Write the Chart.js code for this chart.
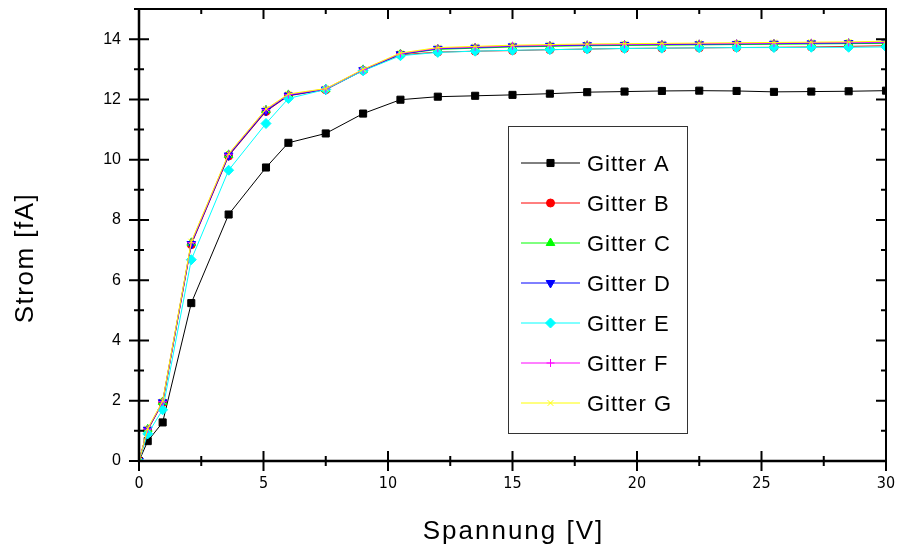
<!DOCTYPE html>
<html>
<head>
<meta charset="utf-8">
<title>Strom vs Spannung</title>
<script src="https://cdn.jsdelivr.net/npm/chart.js"></script>
<style>
    body { margin: 0; background: #ffffff; }
    #wrap { width: 899px; height: 548px; }
</style>
</head>
<body>
<div id="wrap"><canvas id="gitterChart" width="899" height="548"></canvas></div>
<script>
// Data
const spannung = [0, 0.35, 0.95, 2.1, 3.6, 5.1, 6.0, 7.5, 9.0, 10.5, 12, 13.5, 15, 16.5, 18, 19.5, 21, 22.5, 24, 25.5, 27, 28.5, 30];

const gitterA = [0, 0.66, 1.28, 5.24, 8.18, 9.74, 10.56, 10.87, 11.53, 11.99, 12.09, 12.12, 12.15, 12.19, 12.24, 12.26, 12.28, 12.29, 12.28, 12.25, 12.26, 12.27, 12.29];
const gitterB = [0, 1.02, 1.93, 7.18, 10.12, 11.60, 12.12, 12.32, 12.96, 13.48, 13.57, 13.60, 13.62, 13.65, 13.67, 13.69, 13.70, 13.71, 13.72, 13.73, 13.74, 13.76, 13.78];
const gitterC = [0, 1.05, 1.96, 7.24, 10.16, 11.64, 12.15, 12.34, 12.98, 13.50, 13.66, 13.70, 13.74, 13.76, 13.78, 13.79, 13.80, 13.81, 13.82, 13.83, 13.84, 13.85, 13.86];
const gitterD = [0, 1.04, 1.95, 7.20, 10.14, 11.62, 12.13, 12.33, 12.97, 13.50, 13.68, 13.72, 13.76, 13.78, 13.80, 13.81, 13.82, 13.83, 13.84, 13.85, 13.86, 13.87, 13.88];
const gitterE = [0, 0.90, 1.70, 6.68, 9.65, 11.20, 12.03, 12.33, 12.95, 13.45, 13.56, 13.60, 13.63, 13.65, 13.67, 13.69, 13.70, 13.71, 13.72, 13.72, 13.73, 13.73, 13.74];
const gitterF = [0, 1.06, 1.97, 7.25, 10.18, 11.66, 12.16, 12.35, 12.99, 13.52, 13.70, 13.74, 13.78, 13.80, 13.82, 13.83, 13.84, 13.85, 13.86, 13.87, 13.88, 13.89, 13.90];
const gitterG = [0, 1.08, 1.99, 7.28, 10.20, 11.68, 12.18, 12.36, 13.00, 13.54, 13.72, 13.76, 13.80, 13.82, 13.84, 13.85, 13.86, 13.87, 13.88, 13.89, 13.90, 13.91, 13.93];

const seriesNames = ['Gitter A', 'Gitter B', 'Gitter C', 'Gitter D', 'Gitter E', 'Gitter F', 'Gitter G'];
const seriesValues = [gitterA, gitterB, gitterC, gitterD, gitterE, gitterF, gitterG];

const xTicks = [0, 5, 10, 15, 20, 25, 30];
const yTicks = [0, 2, 4, 6, 8, 10, 12, 14];

// Styles per series
const colors = ['#000000', '#ff0000', '#00ff00', '#0000ff', '#00ffff', '#ff00ff', '#ffff00'];
const markers = [
    { style: 'rect', radius: 5, rotation: 0 },
    { style: 'circle', radius: 4, rotation: 0 },
    { style: 'triangle', radius: 5, rotation: 0 },
    { style: 'triangle', radius: 5, rotation: 180 },
    { style: 'rectRot', radius: 5, rotation: 0 },
    { style: 'cross', radius: 4, rotation: 0 },
    { style: 'crossRot', radius: 4, rotation: 0 }
];

const datasets = seriesNames.map((name, i) => ({
    label: name,
    data: spannung.map((x, j) => ({ x: x, y: seriesValues[i][j] })),
    borderColor: colors[i],
    backgroundColor: colors[i],
    borderWidth: 1,
    pointStyle: markers[i].style,
    pointRadius: markers[i].radius,
    pointRotation: markers[i].rotation,
    pointBorderWidth: 1,
    tension: 0,
    order: seriesNames.length - 1 - i
}));

// Frame, crossing ticks, axis titles and the boxed legend
const framePlugin = {
    id: 'framePlugin',
    afterDraw(chart) {
        const ctx = chart.ctx;
        const area = chart.chartArea;
        const xs = chart.scales.x;
        const ys = chart.scales.y;
        ctx.save();
        ctx.strokeStyle = '#000000';

        // Axis box
        ctx.lineWidth = 2;
        ctx.beginPath();
        ctx.moveTo(area.left, area.top);
        ctx.lineTo(area.right, area.top);
        ctx.lineTo(area.right, area.bottom);
        ctx.stroke();
        ctx.lineWidth = 2.5;
        ctx.beginPath();
        ctx.moveTo(area.left, area.top);
        ctx.lineTo(area.left, area.bottom);
        ctx.lineTo(area.right, area.bottom);
        ctx.stroke();

        // Tick marks
        ctx.lineWidth = 2;
        ctx.beginPath();
        for (let v = 0; v <= 30; v += 2.5) {
            const px = xs.getPixelForValue(v);
            const len = (v % 5 === 0) ? 10 : 5;
            ctx.moveTo(px, area.bottom - len);
            ctx.lineTo(px, area.bottom + len);
            ctx.moveTo(px, area.top);
            ctx.lineTo(px, area.top + len);
        }
        for (let v = 0; v <= 15; v += 1) {
            const py = ys.getPixelForValue(v);
            const len = (v % 2 === 0) ? 10 : 5;
            ctx.moveTo(area.left - len, py);
            ctx.lineTo(area.left + len, py);
            ctx.moveTo(area.right - len, py);
            ctx.lineTo(area.right, py);
        }
        ctx.stroke();

        // Axis titles
        ctx.fillStyle = '#000000';
        ctx.font = '26px "Liberation Sans", Arial, sans-serif';
        ctx.letterSpacing = '2px';
        ctx.textAlign = 'center';
        ctx.textBaseline = 'alphabetic';
        ctx.fillText('Spannung [V]', (area.left + area.right) / 2 + 1, 539);
        ctx.save();
        ctx.translate(33, 258);
        ctx.rotate(-Math.PI / 2);
        ctx.letterSpacing = '1.5px';
        ctx.fillText('Strom [fA]', 0, 0);
        ctx.restore();

        // Legend box
        ctx.letterSpacing = '1px';
        ctx.lineWidth = 1;
        ctx.strokeStyle = '#333333';
        ctx.strokeRect(508.5, 126.5, 179, 307);
        ctx.font = '22px "Liberation Sans", Arial, sans-serif';
        ctx.textAlign = 'left';
        chart.data.datasets.forEach((ds, i) => {
            const rowY = 163 + i * 40;
            ctx.strokeStyle = ds.borderColor;
            ctx.fillStyle = ds.backgroundColor;
            ctx.lineWidth = 1;
            ctx.beginPath();
            ctx.moveTo(521, rowY);
            ctx.lineTo(580, rowY);
            ctx.stroke();
            Chart.helpers.drawPoint(ctx, {
                pointStyle: ds.pointStyle,
                radius: ds.pointRadius,
                rotation: ds.pointRotation,
                borderWidth: 1
            }, 550.5, rowY);
            ctx.fillStyle = '#000000';
            ctx.fillText(ds.label, 587, rowY + 8);
        });
        ctx.restore();
    }
};

document.addEventListener('DOMContentLoaded', function() {
    const ctx = document.getElementById('gitterChart').getContext('2d');
    new Chart(ctx, {
        type: 'line',
        data: { datasets: datasets },
        options: {
            responsive: false,
            animation: false,
            devicePixelRatio: 1,
            layout: { padding: { left: 0, top: 9, right: 13, bottom: 0 } },
            plugins: {
                legend: { display: false },
                tooltip: { enabled: false }
            },
            scales: {
                x: {
                    type: 'linear',
                    min: 0,
                    max: 30,
                    afterFit: (scale) => {
                        scale.height = 87;
                        scale.paddingLeft = 0;
                        scale.paddingRight = 0;
                    },
                    afterBuildTicks: (scale) => { scale.ticks = xTicks.map(v => ({ value: v })); },
                    grid: { display: false, drawTicks: false },
                    border: { display: false },
                    ticks: {
                        color: '#000000',
                        padding: 13,
                        maxRotation: 0,
                        font: { family: '"Liberation Sans Narrow", "Arial Narrow", "DejaVu Sans Condensed", sans-serif', size: 16 }
                    }
                },
                y: {
                    type: 'linear',
                    min: 0,
                    max: 15,
                    afterFit: (scale) => {
                        scale.width = 139;
                        scale.paddingTop = 0;
                        scale.paddingBottom = 0;
                    },
                    afterBuildTicks: (scale) => { scale.ticks = yTicks.map(v => ({ value: v })); },
                    grid: { display: false, drawTicks: false },
                    border: { display: false },
                    ticks: {
                        color: '#000000',
                        padding: 18,
                        font: { family: '"Liberation Sans", Arial, sans-serif', size: 16 }
                    }
                }
            }
        },
        plugins: [framePlugin]
    });
});
</script>
</body>
</html>
